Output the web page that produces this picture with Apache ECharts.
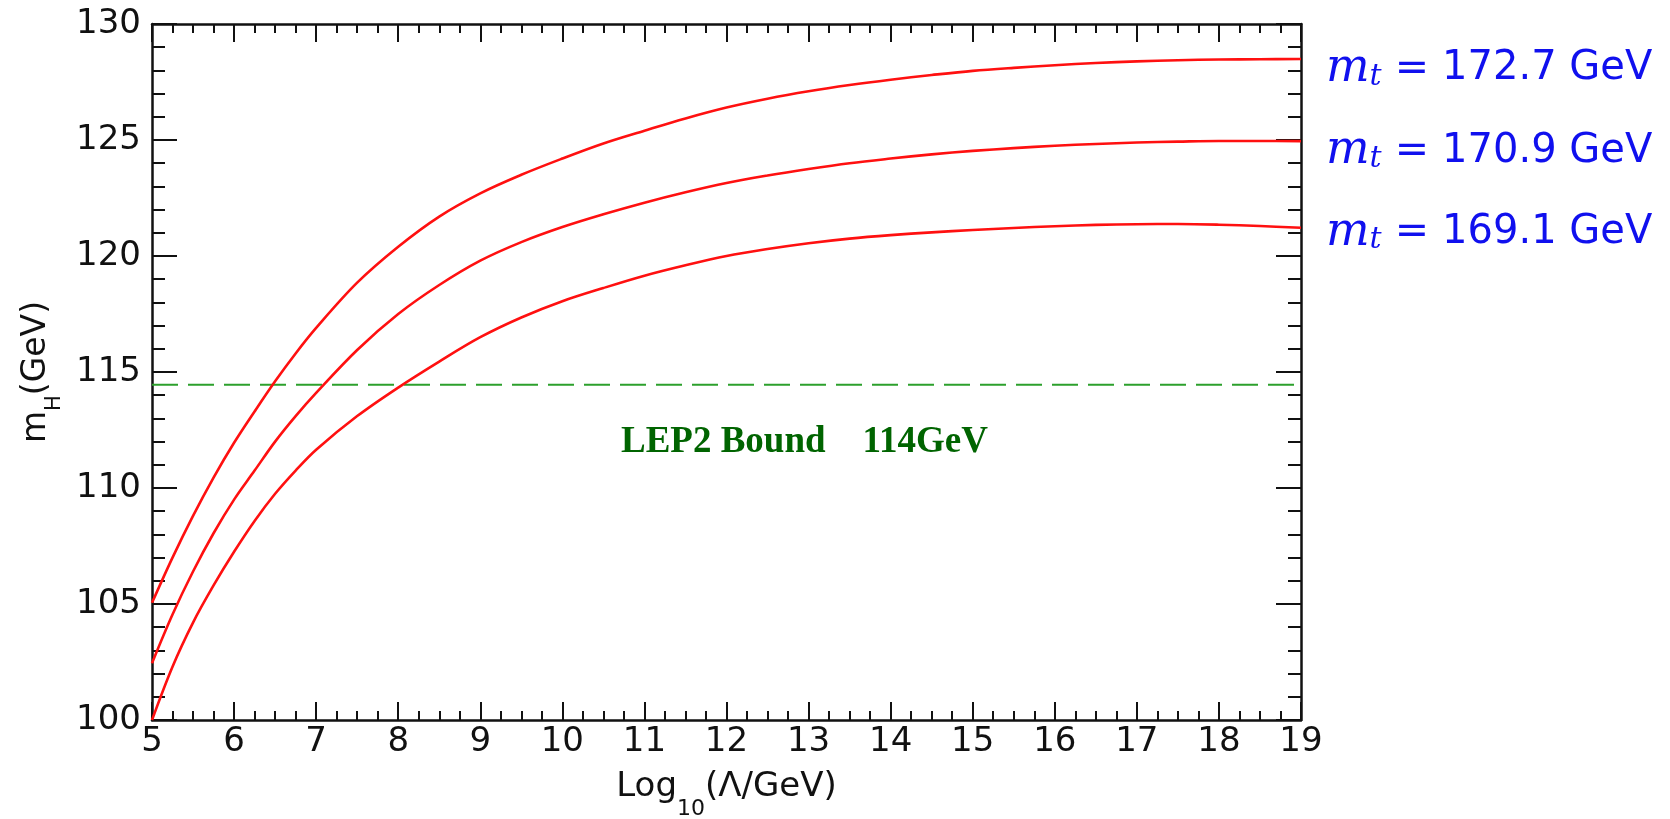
<!DOCTYPE html>
<html><head><meta charset="utf-8">
<script src="https://cdn.jsdelivr.net/npm/echarts@6/dist/echarts.min.js"></script>
<style>html,body{margin:0;padding:0;background:#fff}#c{width:1670px;height:819px}</style>
</head><body><div id="c"></div>
<script>
// ---- data ----
const logLambda = [5, 5.25, 5.5, 5.75, 6, 6.25, 6.5, 6.75, 7, 7.5, 8, 8.5, 9, 9.5, 10, 10.5, 11, 11.5, 12, 12.5, 13, 13.5, 14, 14.5, 15, 15.5, 16, 16.5, 17, 17.5, 18, 18.5, 19];
const mH_mt1727 = [105.05, 107.0, 108.8, 110.45, 111.95, 113.3, 114.6, 115.8, 116.9, 118.85, 120.4, 121.7, 122.7, 123.5, 124.2, 124.85, 125.4, 125.93, 126.4, 126.78, 127.1, 127.37, 127.6, 127.8, 127.98, 128.11, 128.22, 128.32, 128.39, 128.44, 128.47, 128.48, 128.49];
const mH_mt1709 = [102.45, 104.55, 106.4, 108.05, 109.5, 110.75, 112.0, 113.1, 114.1, 115.95, 117.5, 118.75, 119.8, 120.6, 121.25, 121.8, 122.3, 122.75, 123.15, 123.47, 123.75, 124.0, 124.2, 124.38, 124.53, 124.65, 124.75, 124.83, 124.89, 124.93, 124.96, 124.96, 124.95];
const mH_mt1691 = [100.0, 102.3, 104.2, 105.8, 107.25, 108.58, 109.75, 110.75, 111.65, 113.1, 114.33, 115.45, 116.5, 117.35, 118.05, 118.62, 119.15, 119.6, 120.0, 120.3, 120.55, 120.75, 120.9, 121.02, 121.12, 121.21, 121.28, 121.34, 121.37, 121.38, 121.35, 121.29, 121.22];
const topMasses = ['172.7', '170.9', '169.1'];
const lepBound = 114.45;
const lepRange = [5, 19];
const lepLabel = 'LEP2 Bound    114GeV';
const lepLabelAt = [12.95, 111.95];
const xName = 'Log{s|10}(Λ/GeV)';
const yName = 'm{s|H}(GeV)';

// ---- styles ----
const INK = '#111111';
const BLUE = '#1010ee';
const RED = '#ff1010';
const labelShift = [10, 10, 5];
const axisLine = { show: true, onZero: false, lineStyle: { color: INK, width: 2.5 } };
const tickStyle = { color: INK, width: 2 };

function xAxisCfg(pos, labels) {
  return {
    type: 'value', min: 5, max: 19, interval: 1, position: pos,
    axisLine: axisLine,
    axisTick: { show: true, inside: true, length: 18, lineStyle: tickStyle },
    minorTick: { show: true, splitNumber: 4, length: 9, lineStyle: tickStyle },
    splitLine: { show: false }, minorSplitLine: { show: false },
    axisLabel: { show: labels, fontFamily: 'DejaVu Sans', fontSize: 34, color: INK, margin: 5 }
  };
}
function yAxisCfg(pos, labels) {
  return {
    type: 'value', min: 100, max: 130, interval: 5, position: pos,
    axisLine: axisLine,
    axisTick: { show: true, inside: true, length: 25, lineStyle: tickStyle },
    minorTick: { show: true, splitNumber: 5, length: 13, lineStyle: tickStyle },
    splitLine: { show: false }, minorSplitLine: { show: false },
    axisLabel: { show: labels, fontFamily: 'DejaVu Sans', fontSize: 34, color: INK, margin: 11 }
  };
}

const xa = xAxisCfg('bottom', true);
xa.name = xName; xa.nameLocation = 'middle'; xa.nameGap = 50;
xa.nameTextStyle = {
  fontFamily: 'DejaVu Sans', fontSize: 34, color: INK,
  rich: { s: { fontFamily: 'DejaVu Sans', fontSize: 22, color: INK, verticalAlign: 'bottom', lineHeight: 22, padding: [0, 0, -16, 0] } }
};
const ya = yAxisCfg('left', true);
ya.name = yName; ya.nameLocation = 'middle'; ya.nameGap = 90; ya.nameRotate = 90;
ya.nameTextStyle = {
  fontFamily: 'DejaVu Sans', fontSize: 33, color: INK,
  rich: { s: { fontFamily: 'DejaVu Sans', fontSize: 21, color: INK, verticalAlign: 'bottom', lineHeight: 21, padding: [0, 0, -12, 0] } }
};

const massRich = {
  m: { fontFamily: 'DejaVu Serif', fontStyle: 'italic', fontSize: 46, color: BLUE },
  t: { fontFamily: 'DejaVu Serif', fontStyle: 'italic', fontSize: 30, color: BLUE, padding: [16, 0, 0, 0] },
  eq: { fontFamily: 'DejaVu Sans', fontSize: 41, color: BLUE },
  v: { fontFamily: 'DejaVu Sans', fontSize: 40, color: BLUE }
};

function curve(ys, mass, shift) {
  return {
    type: 'line', xAxisIndex: 0, yAxisIndex: 0,
    data: logLambda.map((x, i) => [x, ys[i]]),
    smooth: 0.35, showSymbol: false, symbol: 'none',
    lineStyle: { color: RED, width: 2.6 },
    endLabel: {
      show: true, distance: 25, offset: [0, shift],
      formatter: () => '{m|m}{t|t}{eq| = }{v|' + mass + ' GeV}',
      rich: massRich
    },
    z: 3
  };
}

const chart = echarts.init(document.getElementById('c'), null, { renderer: 'canvas' });
chart.setOption({
  animation: false,
  backgroundColor: '#ffffff',
  grid: { left: 152, top: 24, width: 1149, height: 696, containLabel: false, outerBoundsMode: 'none' },
  xAxis: [xa, xAxisCfg('top', false)],
  yAxis: [ya, yAxisCfg('right', false)],
  series: [
    {
      type: 'line', xAxisIndex: 0, yAxisIndex: 0,
      data: lepRange.map(x => [x, lepBound]),
      showSymbol: false, symbol: 'none',
      lineStyle: { color: '#2ca02c', width: 2, type: [26, 10] }, z: 2
    },
    curve(mH_mt1727, topMasses[0], labelShift[0]),
    curve(mH_mt1709, topMasses[1], labelShift[1]),
    curve(mH_mt1691, topMasses[2], labelShift[2]),
    {
      type: 'scatter', xAxisIndex: 0, yAxisIndex: 0,
      data: [lepLabelAt], symbolSize: 0, silent: true,
      itemStyle: { color: 'transparent', opacity: 0 },
      label: {
        show: true, position: 'inside', formatter: lepLabel, opacity: 1,
        fontFamily: 'Liberation Serif', fontWeight: 'bold', fontSize: 37, color: '#006400',
        textBorderWidth: 0
      }
    }
  ]
});
</script></body></html>
